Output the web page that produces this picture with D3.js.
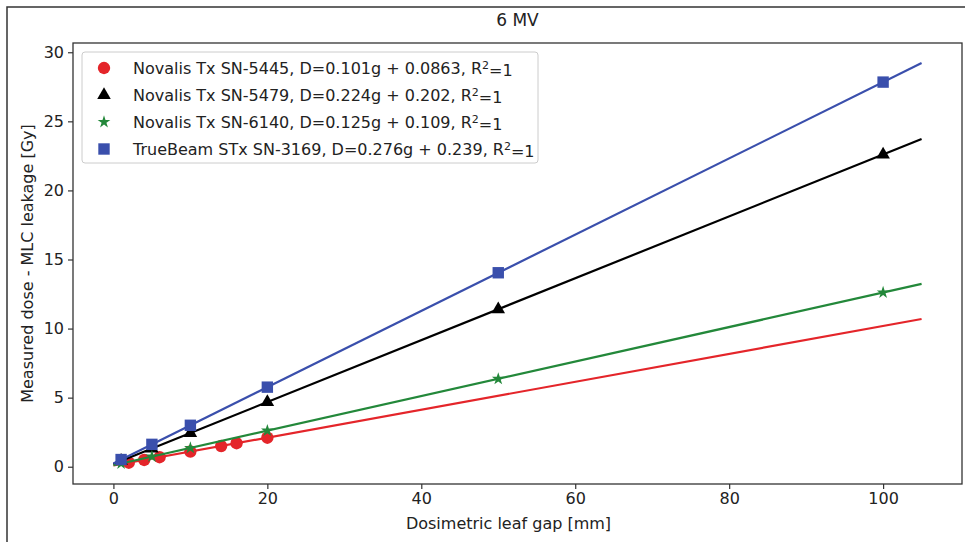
<!DOCTYPE html>
<html>
<head>
<meta charset="utf-8">
<script src="https://d3js.org/d3.v7.min.js"></script>
<style>
	body { margin: 0; background: #fff; }
	svg text { font-family: "DejaVu Sans", sans-serif; fill: #222; }
</style>
</head>
<body>
<div id="chart"></div>
<script>
// series
var seriesNames = ["Novalis Tx SN-5445", "Novalis Tx SN-5479", "Novalis Tx SN-6140", "TrueBeam STx SN-3169"];
var fitLabels = ["D=0.101g + 0.0863", "D=0.224g + 0.202", "D=0.125g + 0.109", "D=0.276g + 0.239"];
var fitSlopes = [0.101, 0.224, 0.125, 0.276];
var fitIntercepts = [0.0863, 0.202, 0.109, 0.239];

var gapRed = [2, 4, 6, 10, 14, 16, 20];
var doseRed = [0.29, 0.49, 0.69, 1.10, 1.50, 1.70, 2.10];
var gapBlack = [1, 5, 10, 20, 50, 100];
var doseBlack = [0.43, 1.32, 2.44, 4.68, 11.40, 22.60];
var gapGreen = [1, 5, 10, 20, 50, 100];
var doseGreen = [0.23, 0.73, 1.36, 2.61, 6.36, 12.61];
var gapBlue = [1, 5, 10, 20, 50, 100];
var doseBlue = [0.52, 1.62, 3.00, 5.76, 14.04, 27.84];

var fitRange = [0, 105];
var xTicks = [0, 20, 40, 60, 80, 100];
var yTicks = [0, 5, 10, 15, 20, 25, 30];

var colors = ["#e4252a", "#000000", "#23883a", "#3a4fac"];
var shapes = ["circle", "triangle", "star", "square"];

var width = 965, height = 542;
var margin = {left: 73, right: 3, top: 43, bottom: 58};

var svg = d3.select("#chart").append("svg").attr("width", width).attr("height", height);

// outer frame of the figure (cut off on right/bottom)
svg.append("rect").attr("x", 7).attr("y", 7).attr("width", 980).attr("height", 560)
	.attr("fill", "none").attr("stroke", "#333").attr("stroke-width", 1.5);

var x = d3.scaleLinear().domain([-5.25, 110.25]).range([margin.left, width - margin.right]);
var y = d3.scaleLinear().domain([-1.25, 30.67]).range([height - margin.bottom, margin.top]);

var xAxis = svg.append("g").attr("transform", "translate(0," + (height - margin.bottom) + ")")
	.call(d3.axisBottom(x).tickValues(xTicks).tickSize(5).tickPadding(4).tickFormat(d3.format("d")));
var yAxis = svg.append("g").attr("transform", "translate(" + margin.left + ",0)")
	.call(d3.axisLeft(y).tickValues(yTicks).tickSize(5).tickPadding(4).tickFormat(d3.format("d")));
[xAxis, yAxis].forEach(function(a){
	a.select(".domain").remove();
	a.selectAll("line").attr("stroke", "#333").attr("stroke-width", 1.2);
	a.selectAll("text").style("font-size", "16px").style("font-family", "DejaVu Sans").attr("fill", "#222");
});

var plot = svg.append("g");
var series = [
	{gap: gapRed, dose: doseRed},
	{gap: gapBlack, dose: doseBlack},
	{gap: gapGreen, dose: doseGreen},
	{gap: gapBlue, dose: doseBlue}
];

var symbolFor = function(shape, size){
	var t = {circle: d3.symbolCircle, triangle: d3.symbolTriangle, star: d3.symbolStar, square: d3.symbolSquare}[shape];
	return d3.symbol().type(t).size(size)();
};
var sizes = {circle: 120, triangle: 80, star: 50, square: 130};

series.forEach(function(s, i){
	var line = d3.line().x(function(d){ return x(d); })
		.y(function(d){ return y(fitSlopes[i] * d + fitIntercepts[i]); });
	plot.append("path").datum(fitRange).attr("d", line)
		.attr("fill", "none").attr("stroke", colors[i]).attr("stroke-width", 2.2);
	plot.selectAll(".m" + i).data(d3.range(s.gap.length)).enter().append("path")
		.attr("class", "m" + i)
		.attr("transform", function(j){ return "translate(" + x(s.gap[j]) + "," + y(s.dose[j]) + ")"; })
		.attr("d", symbolFor(shapes[i], sizes[shapes[i]]))
		.attr("fill", colors[i]);
});

// frame of the axes
svg.append("rect").attr("x", margin.left).attr("y", margin.top)
	.attr("width", width - margin.left - margin.right).attr("height", height - margin.top - margin.bottom)
	.attr("fill", "none").attr("stroke", "#333").attr("stroke-width", 1.3);

// legend
var lg = svg.append("g").attr("transform", "translate(82,52)");
lg.append("rect").attr("width", 456).attr("height", 111).attr("rx", 3)
	.attr("fill", "#fff").attr("stroke", "#ccc").attr("stroke-width", 1);
seriesNames.forEach(function(name, i){
	var row = lg.append("g").attr("transform", "translate(0," + (16 + i * 27) + ")");
	row.append("path").attr("transform", "translate(22,0)")
		.attr("d", symbolFor(shapes[i], sizes[shapes[i]])).attr("fill", colors[i]);
	var t = row.append("text").attr("x", 51).attr("dy", "0.36em").style("font-size", "16px");
	t.append("tspan").text(name + ", " + fitLabels[i] + ", R");
	t.append("tspan").attr("dy", "-0.4em").style("font-size", "11px").text("2");
	t.append("tspan").attr("dy", "0.4em").text("=1");
});

// titles
svg.append("text").attr("x", (margin.left + width - margin.right) / 2).attr("y", 26)
	.attr("text-anchor", "middle").style("font-size", "17px").text("6 MV");
svg.append("text").attr("x", (margin.left + width - margin.right) / 2 - 9).attr("y", 529)
	.attr("text-anchor", "middle").style("font-size", "16px").text("Dosimetric leaf gap [mm]");
svg.append("text").attr("transform", "translate(33," + ((margin.top + height - margin.bottom) / 2) + ") rotate(-90)")
	.attr("text-anchor", "middle").style("font-size", "16px").text("Measured dose - MLC leakage [Gy]");
</script>
</body>
</html>
